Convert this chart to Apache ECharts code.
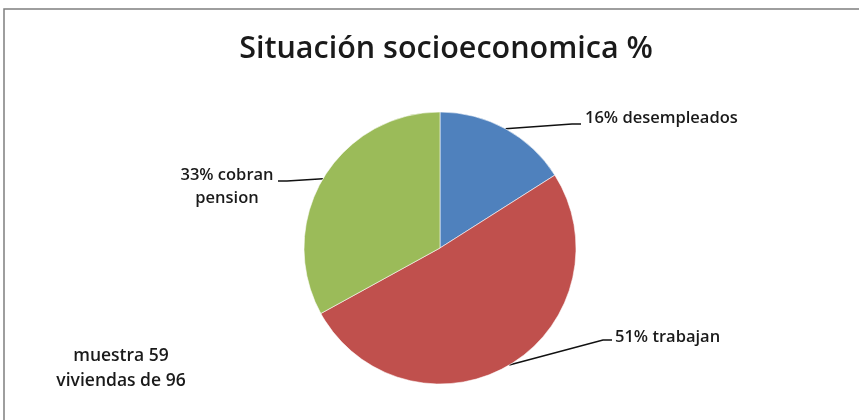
<!DOCTYPE html>
<html>
<head>
<meta charset="utf-8">
<script src="https://cdn.jsdelivr.net/npm/echarts@6/dist/echarts.min.js"></script>
<style>
  html, body { margin: 0; padding: 0; background: #fff; }
  #chart { width: 859px; height: 420px; }
</style>
</head>
<body>
<div id="chart"></div>
<script>
// Household situation shares (percent of sampled dwellings)
const categories = ['desempleados', 'trabajan', 'cobran\npension'];
const shares = [16, 51, 33];
const sampleNote = 'muestra 59\nviviendas de 96';
const chartTitle = 'Situación socioeconomica %';

const sliceColors = ['#4F81BD', '#C0504D', '#9BBB59'];

// Where each label's text sits and where its leader line meets it
const labelPlacement = [
  { x: 585, y: 118, align: 'left',   end: [581, 124], bend: [572, 124] },
  { x: 615, y: 337, align: 'left',   end: [612, 340], bend: [603, 340] },
  { x: 227, y: 187, align: 'center', end: [278, 181], bend: [287, 181] }
];

const FONT = '"Open Sans", Lato, sans-serif';

const chart = echarts.init(document.getElementById('chart'), null, { renderer: 'canvas' });

chart.setOption({
  backgroundColor: '#ffffff',
  animation: false,
  title: {
    text: chartTitle,
    left: 441,
    top: 29,
    textAlign: 'center',
    textStyle: { fontFamily: FONT, fontWeight: 600, fontSize: 30.5, color: '#1a1a1a' }
  },
  graphic: [
    {
      type: 'rect',
      shape: { x: 4, y: 9, width: 900, height: 450 },
      style: { fill: 'none', stroke: '#7f7f7f', lineWidth: 1.5 },
      silent: true
    },
    {
      type: 'text',
      x: 121,
      y: 369,
      style: {
        text: sampleNote,
        textAlign: 'center',
        textVerticalAlign: 'middle',
        font: '600 17.5px ' + FONT,
        lineHeight: 25,
        fill: '#1a1a1a'
      }
    }
  ],
  series: [{
    type: 'pie',
    center: [440, 248],
    radius: 136,
    startAngle: 90,
    clockwise: true,
    avoidLabelOverlap: false,
    itemStyle: { borderColor: 'rgba(255,255,255,0.7)', borderWidth: 0.8 },
    label: {
      show: true,
      position: 'outside',
      fontFamily: FONT,
      fontWeight: 600,
      fontSize: 16.5,
      lineHeight: 23,
      color: '#1a1a1a',
      formatter: p => p.value + '% ' + p.name
    },
    labelLine: {
      show: true,
      length: 10,
      length2: 10,
      lineStyle: { color: '#111', width: 1.5 }
    },
    labelLayout: function (params) {
      const place = labelPlacement[params.dataIndex];
      const anchor = params.labelLinePoints ? params.labelLinePoints[0] : null;
      const out = {
        x: place.x,
        y: place.y,
        align: place.align,
        verticalAlign: 'middle'
      };
      if (anchor) {
        out.labelLinePoints = [anchor, place.bend, place.end];
      }
      return out;
    },
    data: categories.map((name, i) => ({
      name: name,
      value: shares[i],
      itemStyle: { color: sliceColors[i] },
      label: { align: labelPlacement[i].align }
    }))
  }]
});
</script>
</body>
</html>
